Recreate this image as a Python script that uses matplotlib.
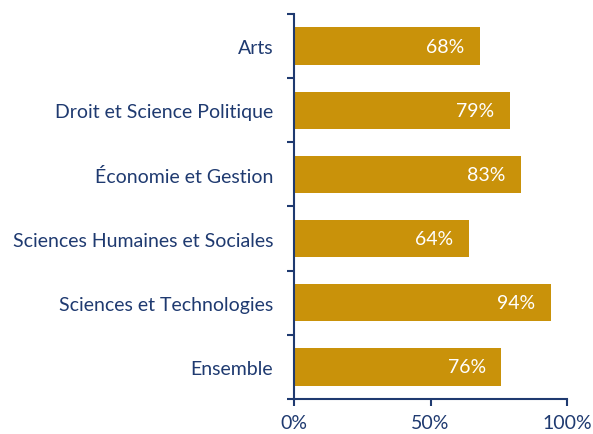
import matplotlib.pyplot as plt

categories = ['Arts', 'Droit et Science Politique', 'Économie et Gestion',
              'Sciences Humaines et Sociales', 'Sciences et Technologies', 'Ensemble']
values = [68, 79, 83, 64, 94, 76]
xticks = [0, 50, 100]
xtick_labels = ['0%', '50%', '100%']

bar_color = '#C9920A'
text_color = '#1F3A70'

plt.rcParams['font.family'] = ['Lato', 'DejaVu Sans']

fig = plt.figure(figsize=(5.93, 4.35), dpi=100)
ax = fig.add_axes([0.496, 0.0805, 0.46, 0.885])

n = len(categories)
ypos = list(range(n))
ax.barh(ypos, values, height=0.58, color=bar_color)
ax.set_ylim(n - 0.5, -0.5)
ax.set_xlim(0, 100)

for y, v in zip(ypos, values):
    ax.annotate(f'{v}%', (v, y), xytext=(-11, 0), textcoords='offset points',
                ha='right', va='center', color='white', fontsize=14)

# ticks at category boundaries, labels at centres
ax.set_yticks([i - 0.5 for i in range(n + 1)])
ax.set_yticklabels([])
ax.set_yticks(ypos, minor=True)
ax.set_yticklabels(categories, minor=True, fontsize=14, color=text_color)
ax.tick_params(axis='y', which='major', length=5, width=1.5, color=text_color)
ax.tick_params(axis='y', which='minor', length=0, pad=15)

ax.set_xticks(xticks)
ax.set_xticklabels(xtick_labels, fontsize=14, color=text_color)
ax.tick_params(axis='x', length=5, width=1.5, color=text_color, pad=6)

for side in ['top', 'right']:
    ax.spines[side].set_visible(False)
for side in ['left', 'bottom']:
    ax.spines[side].set_color(text_color)
    ax.spines[side].set_linewidth(1.5)

fig.savefig('out.png', dpi=100)
